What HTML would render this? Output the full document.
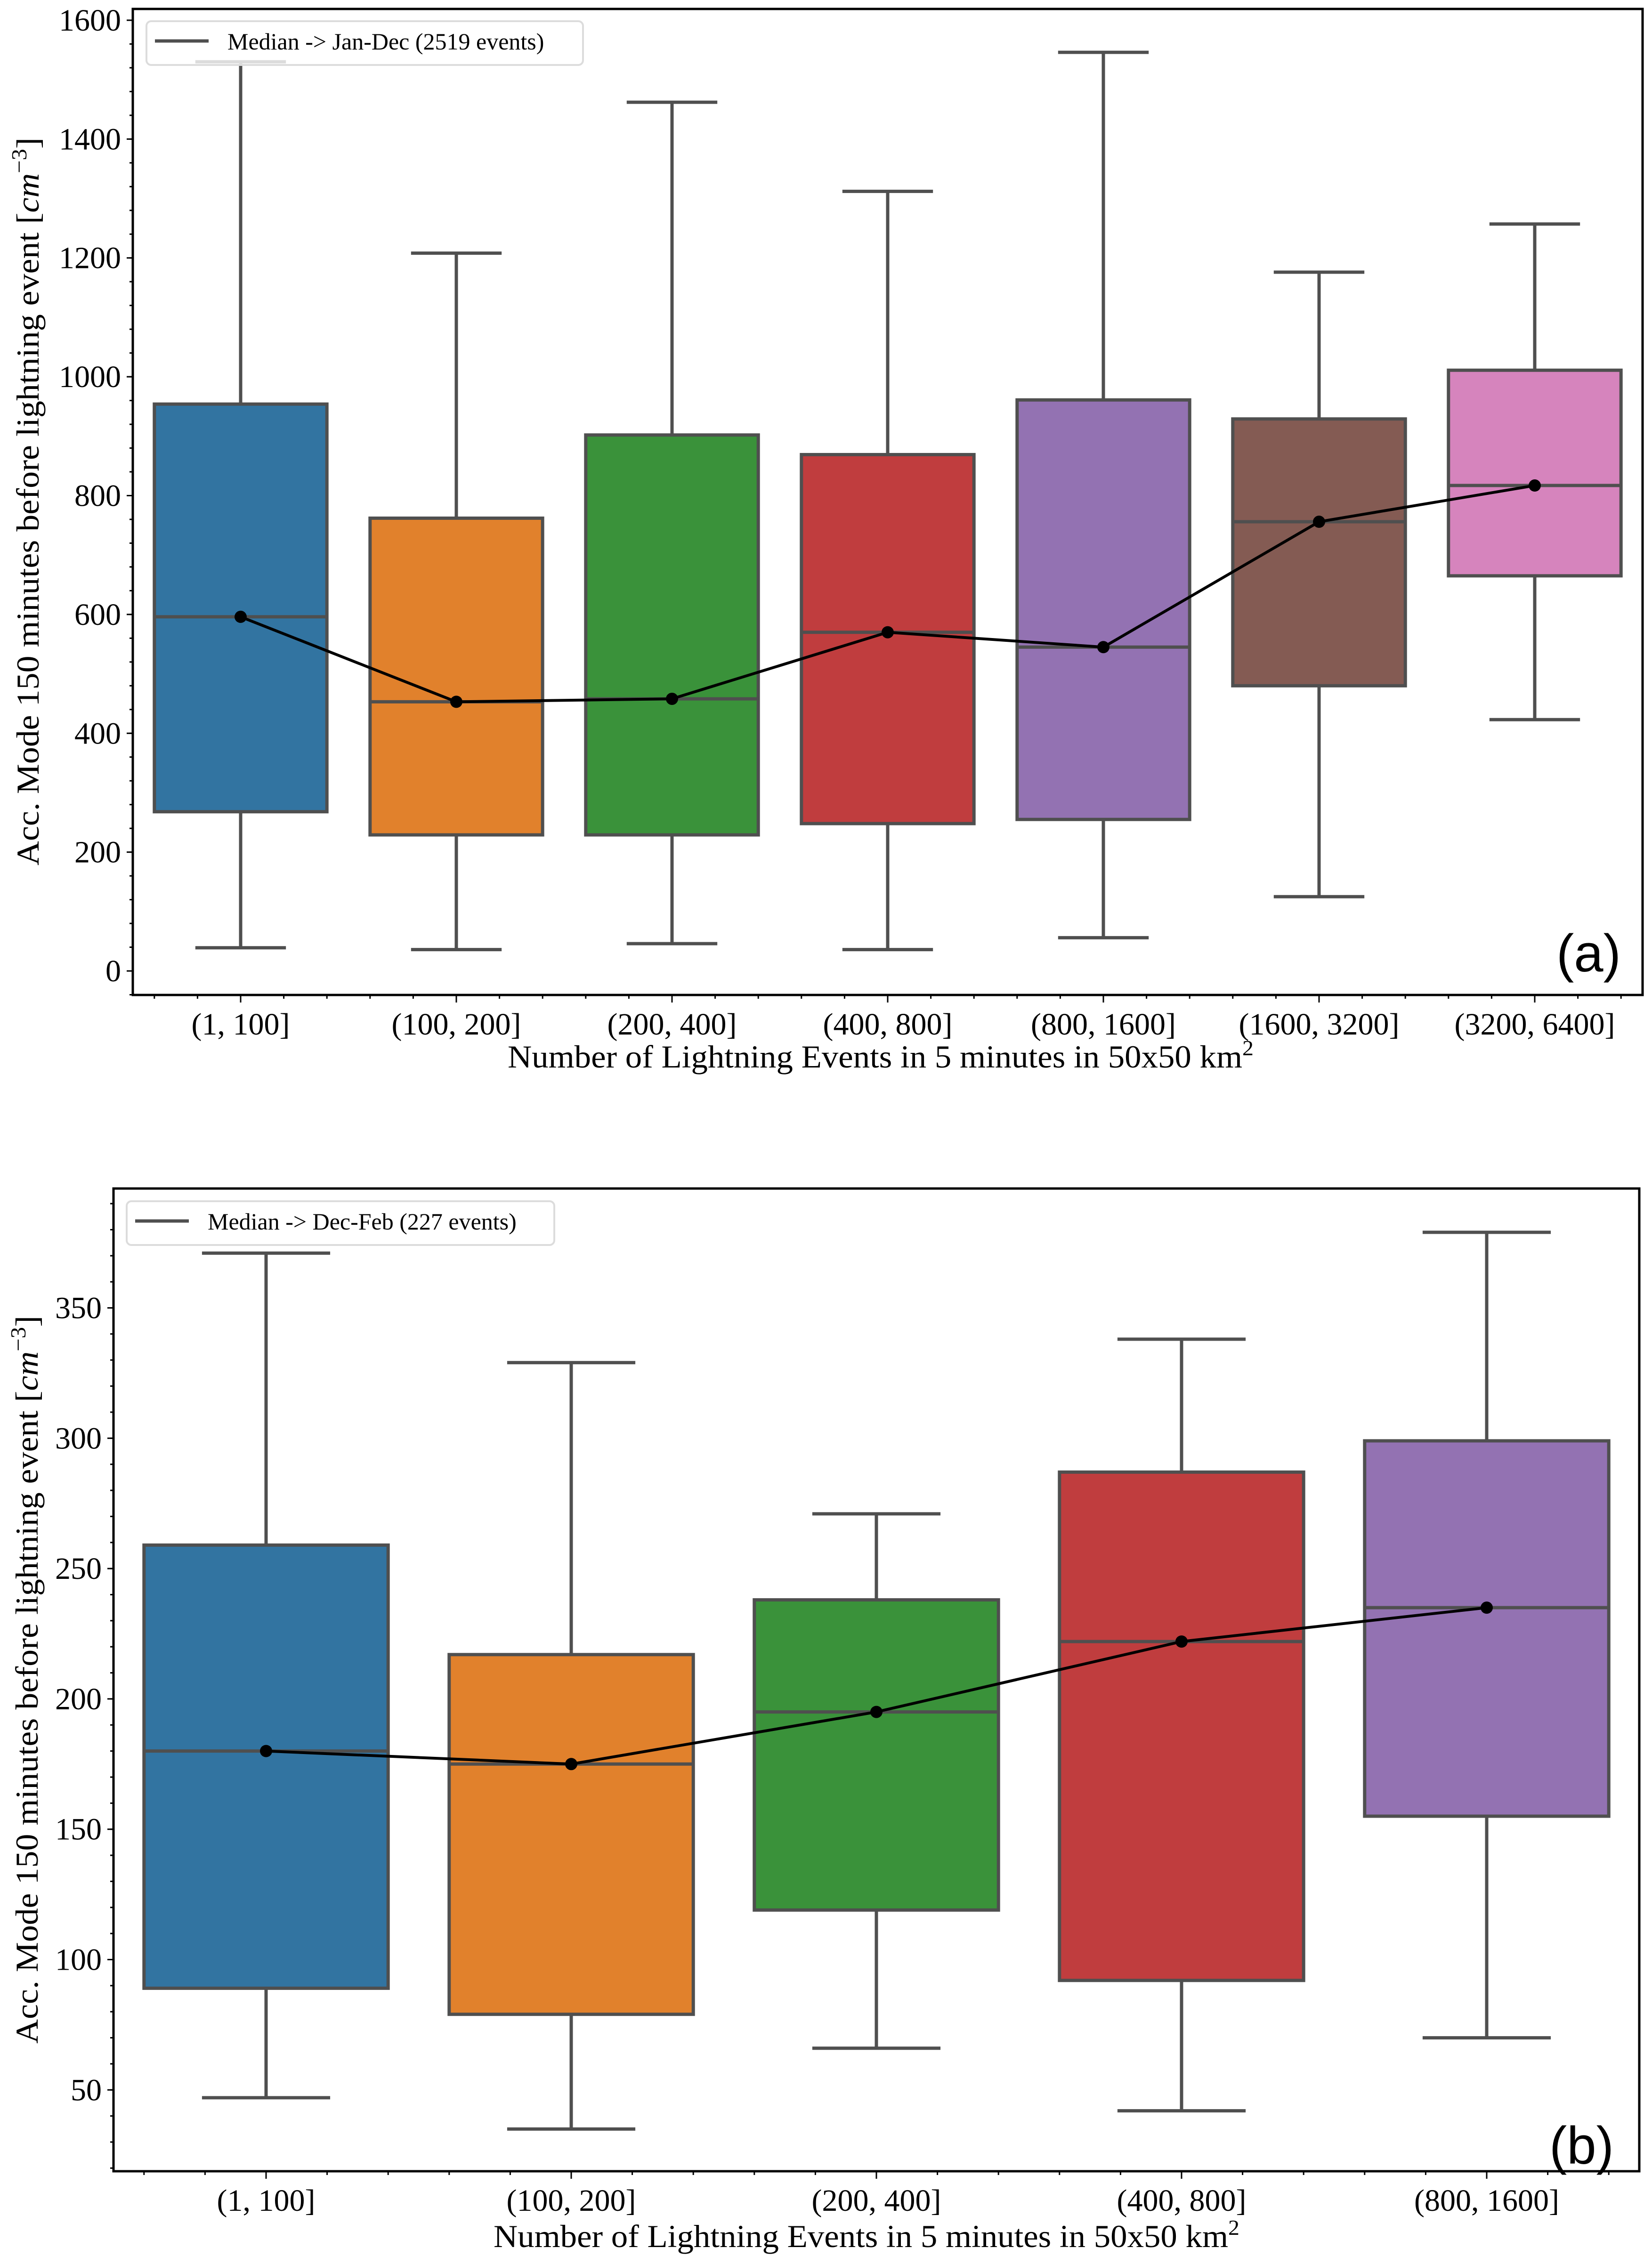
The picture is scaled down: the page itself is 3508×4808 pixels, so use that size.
<!DOCTYPE html>
<html><head><meta charset="utf-8">
<style>
html,body{margin:0;padding:0;background:#fff;}
svg{display:block;}
text{font-family:"Liberation Serif","DejaVu Serif",serif;}
</style></head>
<body>
<svg id="fig" width="3508" height="4808" viewBox="0 0 3508 4808" xmlns="http://www.w3.org/2000/svg"></svg>
<script>
// ---- Panel (a) data ----
const catsA = ["(1, 100]","(100, 200]","(200, 400]","(400, 800]","(800, 1600]","(1600, 3200]","(3200, 6400]"];
const lowA  = [39, 36, 46, 36, 56, 125, 423];
const q1A   = [268, 229, 229, 248, 255, 480, 665];
const medA  = [596, 453, 458, 570, 545, 756, 817];
const q3A   = [954, 762, 902, 869, 961, 929, 1011];
const highA = [1530, 1208, 1462, 1312, 1546, 1176, 1257];
const yTicksA = [0, 200, 400, 600, 800, 1000, 1200, 1400, 1600];
// ---- Panel (b) data ----
const catsB = ["(1, 100]","(100, 200]","(200, 400]","(400, 800]","(800, 1600]"];
const lowB  = [47, 35, 66, 42, 70];
const q1B   = [89, 79, 119, 92, 155];
const medB  = [180, 175, 195, 222, 235];
const q3B   = [259, 217, 238, 287, 299];
const highB = [371, 329, 271, 338, 379];
const yTicksB = [50, 100, 150, 200, 250, 300, 350];

const colors = ["#3274a1","#e1812c","#3a923a","#c03d3e","#9372b2","#845b53","#d684bd"];
const NS = "http://www.w3.org/2000/svg";
const svg = document.getElementById('fig');
function mk(tag, attrs, parent){
  const e = document.createElementNS(NS, tag);
  for (const k in attrs) e.setAttribute(k, attrs[k]);
  (parent||svg).appendChild(e); return e;
}

function panel(cfg){
  const g = mk('g', {});
  
  
  const n = cfg.cats.length;
  const L = cfg.L, R = cfg.R, T = cfg.T, B = cfg.B;
  const xs = i => L + (i + 0.5) * (R - L) / n;
  const ys = v => B - (v - cfg.ymin) / (cfg.ymax - cfg.ymin) * (B - T);
  const step = (R - L) / n;
  const bw = 0.8 * step, cw = 0.42 * step;
  const edge = "#4f4f4f";
  for (let i = 0; i < n; i++){
    const bg = mk('g', {}, g);
    
    
    const cx = xs(i);
    const w1 = mk('line', {x1:cx, x2:cx, y1:ys(cfg.high[i]), y2:ys(cfg.q3[i]), stroke:edge, 'stroke-width':7}, bg);
    
    
    const w2 = mk('line', {x1:cx, x2:cx, y1:ys(cfg.q1[i]), y2:ys(cfg.low[i]), stroke:edge, 'stroke-width':7}, bg);
    
    
    const c1 = mk('line', {x1:cx-cw/2, x2:cx+cw/2, y1:ys(cfg.high[i]), y2:ys(cfg.high[i]), stroke:edge, 'stroke-width':7}, bg);
    
    
    const c2 = mk('line', {x1:cx-cw/2, x2:cx+cw/2, y1:ys(cfg.low[i]), y2:ys(cfg.low[i]), stroke:edge, 'stroke-width':7}, bg);
    
    
    const r = mk('rect', {x:cx-bw/2, y:ys(cfg.q3[i]), width:bw, height:ys(cfg.q1[i])-ys(cfg.q3[i]), fill:colors[i], stroke:edge, 'stroke-width':7}, bg);
    
    
    const m = mk('line', {x1:cx-bw/2, x2:cx+bw/2, y1:ys(cfg.med[i]), y2:ys(cfg.med[i]), stroke:edge, 'stroke-width':7}, bg);
    
    
  }
  let d = '';
  for (let i = 0; i < n; i++) d += (i ? 'L' : 'M') + xs(i) + ',' + ys(cfg.med[i]);
  const pl = mk('path', {d:d, fill:'none', stroke:'#000', 'stroke-width':6}, g);
  
  
  for (let i = 0; i < n; i++){
    const c = mk('circle', {cx:xs(i), cy:ys(cfg.med[i]), r:13, fill:'#000'}, g);
    
    
  }
  const lg = mk('g', {}, g);
  
  
  mk('rect', {x:cfg.leg[0], y:cfg.leg[1], width:cfg.leg[2], height:93, rx:10, fill:'rgba(255,255,255,0.8)', stroke:'#dcdcdc', 'stroke-width':4}, lg);
  mk('line', {x1:cfg.leg[0]+18, x2:cfg.leg[0]+132, y1:cfg.leg[1]+42, y2:cfg.leg[1]+42, stroke:edge, 'stroke-width':7}, lg);
  const lt = mk('text', {x:cfg.leg[0]+172, y:cfg.leg[1]+60, 'font-size':50, fill:'#000'}, lg);
  lt.textContent = cfg.legText;
  
  
  const fr = mk('rect', {x:L, y:T, width:R-L, height:B-T, fill:'none', stroke:'#000', 'stroke-width':5}, g);
  
  
  for (let v = Math.ceil(cfg.ymin/cfg.minor)*cfg.minor; v <= cfg.ymax; v += cfg.minor){
    mk('line', {x1:L-7, x2:L, y1:ys(v), y2:ys(v), stroke:'#000', 'stroke-width':3}, g);
  }
  cfg.yticks.forEach(v => {
    mk('line', {x1:L-13, x2:L, y1:ys(v), y2:ys(v), stroke:'#000', 'stroke-width':3}, g);
    const t = mk('text', {x:L-25, y:ys(v)+22, 'text-anchor':'end', 'font-size':66, fill:'#000'}, g);
    t.textContent = v;
    
    
  });
  for (let k = 0; k <= n*5; k++){
    const x = L + k * step / 5 + step/10;
    if (x > R) break;
    mk('line', {x1:x, x2:x, y1:B, y2:B+8, stroke:'#000', 'stroke-width':3}, g);
  }
  for (let i = 0; i < n; i++){
    mk('line', {x1:xs(i), x2:xs(i), y1:B, y2:B+16, stroke:'#000', 'stroke-width':3}, g);
    const t = mk('text', {x:xs(i), y:B+84, 'text-anchor':'middle', 'font-size':66, fill:'#000'}, g);
    t.textContent = cfg.cats[i];
    
    
  }
  const xt = mk('text', {x:cfg.xlab[0], y:cfg.xlab[1], 'text-anchor':'middle', 'font-size':68, fill:'#000', textLength:1584, lengthAdjust:'spacingAndGlyphs'}, g);
  xt.innerHTML = 'Number of Lightning Events in 5 minutes in 50x50 km<tspan dy="-26" font-size="46">2</tspan>';
  
  
  const yt = mk('text', {x:0, y:0, 'text-anchor':'middle', 'font-size':68, fill:'#000', textLength:1546, lengthAdjust:'spacingAndGlyphs', transform:'translate(' + cfg.ylab[0] + ',' + cfg.ylab[1] + ') rotate(-90)'}, g);
  yt.innerHTML = 'Acc. Mode 150 minutes before lightning event  [<tspan font-style="italic">cm</tspan><tspan dy="-26" font-size="46">−3</tspan><tspan dy="26">]</tspan>';
  
  
  const pt = mk('text', {x:cfg.plab[0], y:cfg.plab[1], 'font-size':112, fill:'#000', style:'font-family:"Liberation Sans","DejaVu Sans",sans-serif'}, g);
  pt.textContent = cfg.plabText;
  
  
}

panel({name:'panel-a', cats:catsA, low:lowA, q1:q1A, med:medA, q3:q3A, high:highA, yticks:yTicksA,
  L:282, R:3488, T:19, B:2113, ymin:-40.4, ymax:1619, minor:40,
  leg:[311,45,927], legText:'Median -> Jan-Dec (2519 events)',
  xlab:[1870,2267], ylab:[82,1065], plab:[3305,2063], plabText:'(a)'});
panel({name:'panel-b', cats:catsB, low:lowB, q1:q1B, med:medB, q3:q3B, high:highB, yticks:yTicksB,
  L:241, R:3481, T:2524, B:4611, ymin:18.8, ymax:395.8, minor:10,
  leg:[269,2551,908], legText:'Median -> Dec-Feb (227 events)',
  xlab:[1840,4772], ylab:[80,3567], plab:[3290,4595], plabText:'(b)'});
</script>
</body></html>
